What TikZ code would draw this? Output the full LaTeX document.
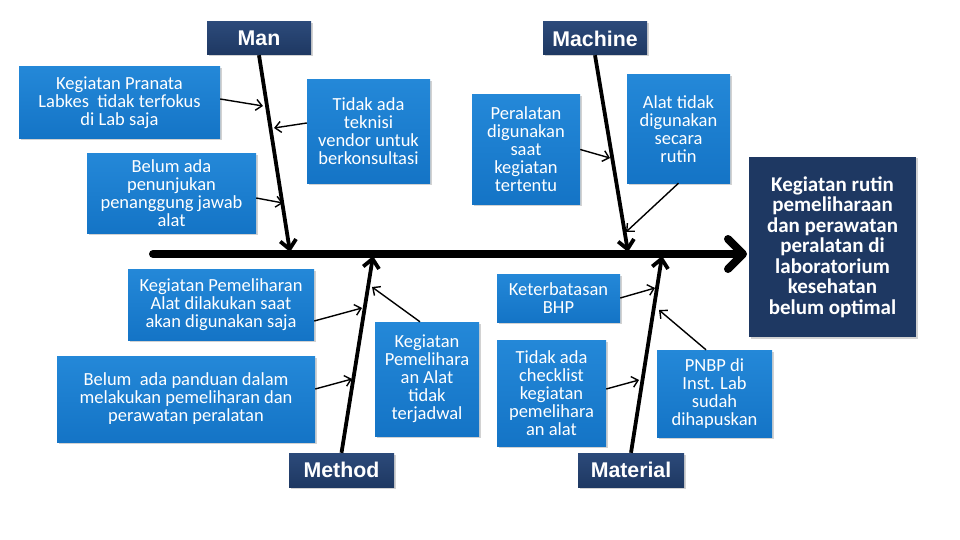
\documentclass[tikz,border=0pt]{standalone}
\usepackage{fontspec}
\setmainfont{Carlito}
\newfontfamily\hdrfont{Liberation Sans}
\usetikzlibrary{arrows.meta,shadows,calc}
\definecolor{causeblue}{RGB}{20,116,198}
\definecolor{causetop}{RGB}{36,136,216}
\definecolor{hdrblue}{RGB}{30,56,98}
\definecolor{hdrtop}{RGB}{44,74,122}
\tikzset{
  cause/.style={top color=causetop, bottom color=causeblue, text=white, align=center,
    inner sep=0pt, font=\fontsize{18.5}{18}\selectfont,
    drop shadow={shadow xshift=1.5pt, shadow yshift=-1.5pt, opacity=0.35}},
  hdr/.style={top color=hdrtop, bottom color=hdrblue, text=white, align=center,
    inner sep=0pt, font=\hdrfont\bfseries\fontsize{21.3}{24}\selectfont,
    drop shadow={shadow xshift=1.5pt, shadow yshift=-1.5pt, opacity=0.35}},
  effbox/.style={fill=hdrblue, text=white, align=center, inner sep=0pt,
    font=\bfseries\fontsize{21}{20.5}\selectfont,
    drop shadow={shadow xshift=1.5pt, shadow yshift=-1.5pt, opacity=0.35}},
  spine/.style={line width=8pt, line cap=round, line join=round,
    -{Straight Barb[length=15pt,width=30pt,line cap=round,line join=round]}},
  bone/.style={line width=3.8pt,
    -{Straight Barb[length=9pt,width=16pt]}},
  small/.style={line width=1.4pt, -{Straight Barb[length=6pt,width=11pt]}}
}
\begin{document}
\begin{tikzpicture}[x=1pt,y=-1pt]
\useasboundingbox[fill=white] (0,0) rectangle (960,540);
% headers
\node[hdr, minimum width=104pt, minimum height=33pt] (man) at (259,38.5) {Man};
\node[hdr, minimum width=104pt, minimum height=33pt] (mach) at (595,38.5) {Machine};
\node[hdr, minimum width=105pt, minimum height=34pt] (meth) at (341.5,470) {Method};
\node[hdr, minimum width=106pt, minimum height=34pt] (mat) at (631,470) {Material};
\node[effbox, minimum width=167pt, minimum height=180pt] (eff) at (832.5,247)
  {Kegiatan rutin\\pemeliharaan\\dan perawatan\\peralatan di\\laboratorium\\kesehatan\\belum optimal};
% causes
\node[cause, minimum width=201pt, minimum height=72pt] (c1) at (119.5,103)
  {Kegiatan Pranata\\Labkes\ \ tidak terfokus\\di Lab saja};
\node[cause, minimum width=123pt, minimum height=103pt] (c2) at (368.5,131.5)
  {Tidak ada\\teknisi\\vendor untuk\\berkonsultasi};
\node[cause, minimum width=169pt, minimum height=79pt] (c3) at (171.5,193.5)
  {Belum ada\\penunjukan\\penanggung jawab\\alat};
\node[cause, minimum width=108pt, minimum height=109pt] (c4) at (526,149.5)
  {Peralatan\\digunakan\\saat\\kegiatan\\tertentu};
\node[cause, minimum width=103pt, minimum height=108pt] (c5) at (678.5,129)
  {Alat tidak\\digunakan\\secara\\rutin};
\node[cause, minimum width=186pt, minimum height=71pt] (c6) at (221,304.5)
  {Kegiatan Pemeliharan\\Alat dilakukan saat\\akan digunakan saja};
\node[cause, minimum width=258pt, minimum height=86pt] (c7) at (186,399)
  {Belum\ \ ada panduan dalam\\melakukan pemeliharan dan\\perawatan peralatan};
\node[cause, minimum width=104pt, minimum height=114pt] (c8) at (427,379)
  {Kegiatan\\Pemelihara\\an Alat\\tidak\\terjadwal};
\node[cause, minimum width=123pt, minimum height=48pt] (c9) at (558.5,298)
  {Keterbatasan\\BHP};
\node[cause, minimum width=109pt, minimum height=106pt] (c10) at (551.5,393)
  {Tidak ada\\checklist\\kegiatan\\pemelihara\\an alat};
\node[cause, minimum width=115pt, minimum height=87pt] (c11) at (714.5,393.5)
  {PNBP di\\Inst. Lab\\sudah\\dihapuskan};
% spine and bones
\coordinate (sp0) at (153,254);
\coordinate (sp1) at (747,254);
\draw[spine] (sp0) -- (sp1);
\coordinate (manE) at (290,252);
\coordinate (machE) at (628,252);
\coordinate (methE) at (373,256);
\coordinate (matE) at (662,256);
\draw[bone] (man.south) -- (manE);
\draw[bone] (mach.south) -- (machE);
\draw[bone] (meth.north) -- (methE);
\draw[bone] (mat.north) -- (matE);
% small arrows
\coordinate (t1) at (263,106);
\coordinate (t2) at (274,128);
\coordinate (t3) at (283,203);
\coordinate (t4) at (610,158);
\coordinate (t5) at (626,232);
\coordinate (t6) at (362,308);
\coordinate (t7) at (352,379);
\coordinate (t8) at (372,287);
\coordinate (t9) at (655,288);
\coordinate (t10) at (639,380);
\coordinate (t11) at (659,310);
\draw[small] ($(c1.east)+(0,-4)$) -- (t1);
\draw[small] ($(c2.west)+(0,-8.5)$) -- (t2);
\draw[small] ($(c3.east)+(0,4.5)$) -- (t3);
\draw[small] (c4.east) -- (t4);
\draw[small] (c5.south) -- (t5);
\draw[small] ($(c6.east)+(0,16.5)$) -- (t6);
\draw[small] ($(c7.east)+(0,-10)$) -- (t7);
\draw[small] ($(c8.north)+(-7,0)$) -- (t8);
\draw[small] (c9.east) -- (t9);
\draw[small] ($(c10.east)+(0,-4)$) -- (t10);
\draw[small] ($(c11.north)+(-8.5,0)$) -- (t11);
\end{tikzpicture}
\end{document}
